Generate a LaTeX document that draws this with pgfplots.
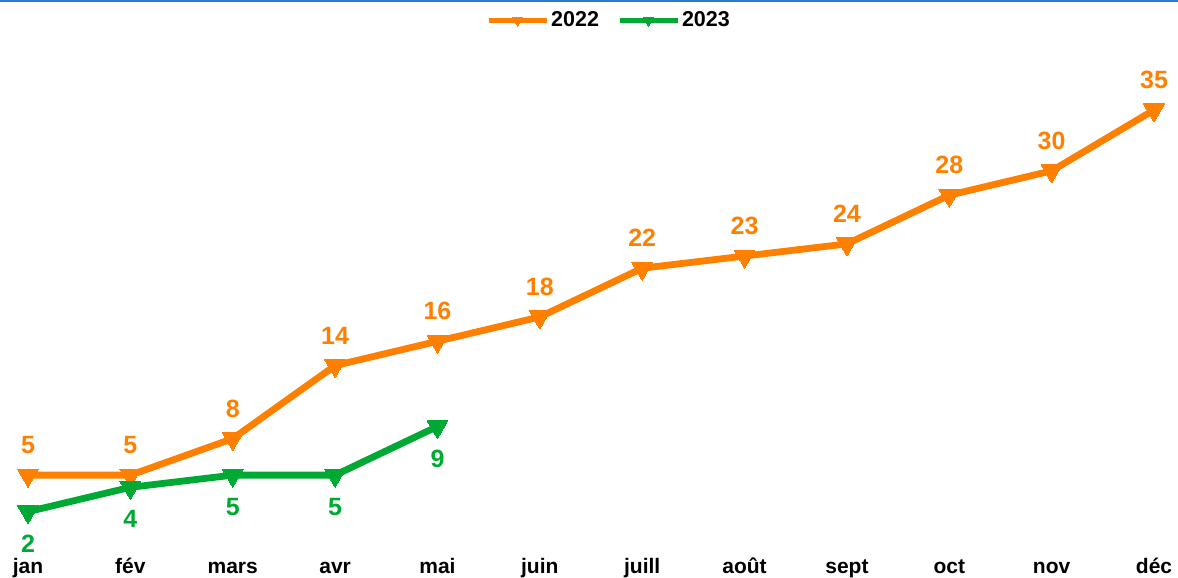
\documentclass[border=0pt]{standalone}
\usepackage{pgfplots}
\pgfplotsset{compat=1.18}
\usepackage{fontspec}
\setmainfont{Liberation Sans}
\definecolor{corange}{HTML}{FF8000}
\definecolor{cgreen}{HTML}{00A933}
\definecolor{cblue}{HTML}{2A7BC8}
\begin{document}
\begin{tikzpicture}
\useasboundingbox (-28pt,-42pt) rectangle (1150pt,536pt);
\draw[cblue, line width=2.5pt] (-28pt,535pt) -- (1150pt,535pt);
\begin{axis}[
  scale only axis,
  width=1126pt, height=426pt,
  xmin=0, xmax=11, ymin=0, ymax=35,
  clip=false,
  axis line style={draw=none},
  ytick=\empty,
  xtick={0,...,11},
  xticklabels={jan,fév,mars,avr,mai,juin,juill,août,sept,oct,nov,déc},
  major tick length=0pt,
  xticklabel style={anchor=base, yshift=-38pt, font=\fontsize{21}{25}\selectfont\bfseries, text=black},
  /pgf/number format/assume math mode=true,
  nodes near coords,
  legend columns=2,
  legend style={draw=none, at={(0.516,1.211)}, anchor=center, font=\fontsize{21.5}{25}\selectfont\bfseries,
    /tikz/every even column/.append style={column sep=16pt}},
  legend image code/.code={\draw[line width=5pt, mark size=6pt, mark repeat=2, mark phase=2] plot coordinates {(0pt,0pt) (29pt,0pt) (58pt,0pt)};},
]
\addplot[corange, line width=6.8pt, mark=triangle*, mark size=12pt, mark options={rotate=180, line width=0pt},
  nodes near coords style={anchor=center, yshift=30pt, font=\fontsize{25}{28}\selectfont\bfseries, text=corange}]
  coordinates {(0,5)(1,5)(2,8)(3,14)(4,16)(5,18)(6,22)(7,23)(8,24)(9,28)(10,30)(11,35)};
\addlegendentry{2022}
\addplot[cgreen, line width=6.8pt, mark=triangle*, mark size=12pt, mark options={rotate=180, line width=0pt},
  nodes near coords style={anchor=center, yshift=-32pt, font=\fontsize{25}{28}\selectfont\bfseries, text=cgreen}]
  coordinates {(0,2)(1,4)(2,5)(3,5)(4,9)};
\addlegendentry{2023}
\end{axis}
\end{tikzpicture}
\end{document}
